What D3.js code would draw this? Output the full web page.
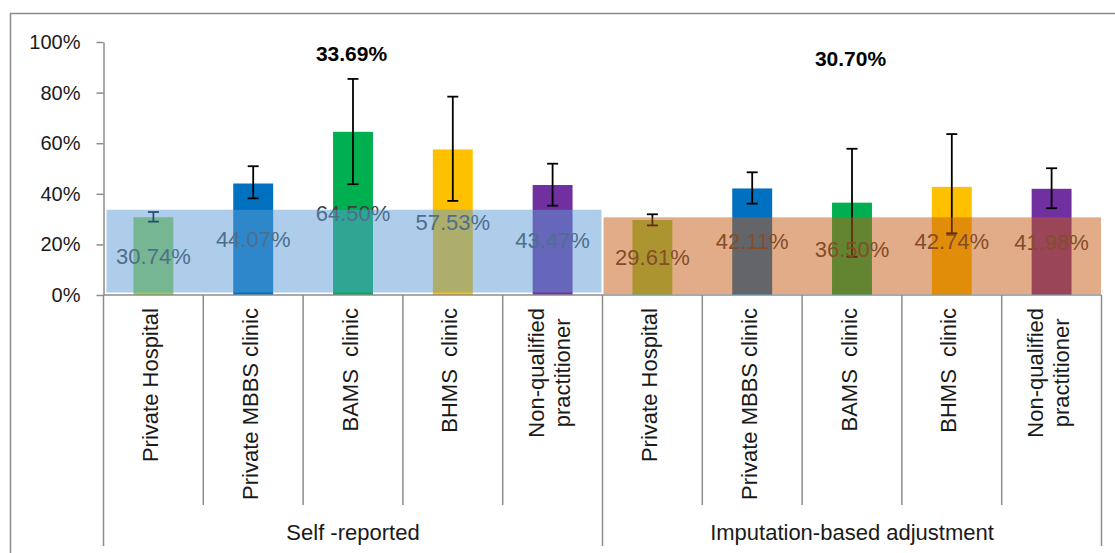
<!DOCTYPE html>
<html>
<head>
<meta charset="utf-8">
<script src="https://cdn.jsdelivr.net/npm/d3@7"></script>
<style>
  body { margin: 0; background: #fff; }
  svg { display: block; font-family: "Liberation Sans", Arial, sans-serif; }
</style>
</head>
<body>
<div id="chart"></div>
<script>
const categories = ['Private Hospital', 'Private MBBS clinic', 'BAMS  clinic', 'BHMS  clinic', 'Non-qualified|practitioner']
const groups = ['Self -reported', 'Imputation-based adjustment']
const groupMeans = [0.3369, 0.3070]
const groupMeanLabels = ['33.69%', '30.70%']

const selfValues = [0.3074, 0.4407, 0.6450, 0.5753, 0.4347]
const selfLow = [0.290, 0.382, 0.438, 0.372, 0.353]
const selfHigh = [0.328, 0.509, 0.854, 0.784, 0.519]

const imputedValues = [0.2961, 0.4211, 0.3650, 0.4274, 0.4198]
const imputedLow = [0.275, 0.361, 0.151, 0.244, 0.343]
const imputedHigh = [0.319, 0.485, 0.578, 0.636, 0.501]

const barColors = ['#92D050', '#0070C0', '#00B050', '#FFC000', '#7030A0']
const overlayColors = ['rgba(91,155,213,0.5)', 'rgba(197,90,17,0.5)']
const yTicks = [0, 0.2, 0.4, 0.6, 0.8, 1]

const w = 1115
const h = 553
const plotLeft = 103.5
const plotRight = 1101.5
const plotTop = 42
const plotBase = 295

let rows = []
groups.forEach((g, gi) => {
  const vals = gi === 0 ? selfValues : imputedValues
  const lo = gi === 0 ? selfLow : imputedLow
  const hi = gi === 0 ? selfHigh : imputedHigh
  categories.forEach((c, ci) => {
    rows.push({ key: gi + '-' + ci, group: gi, cat: c, ci: ci, value: vals[ci], lo: lo[ci], hi: hi[ci] })
  })
})

const xScale = d3.scaleBand()
  .domain(rows.map(d => d.key))
  .range([plotLeft, plotRight])
  .paddingInner(0.6)
  .paddingOuter(0.3)

const step = xScale.step()
const cellStart = key => xScale(key) - step * 0.3
const center = key => xScale(key) + xScale.bandwidth() / 2

const yScale = d3.scaleLinear()
  .domain([0, 1])
  .range([plotBase, plotTop])

const svg = d3.select('#chart')
  .append('svg')
  .attr('width', w)
  .attr('height', h)

// outer frame
svg.append('rect')
  .attr('x', 10.5).attr('y', 13.5)
  .attr('width', 1130).attr('height', 580)
  .attr('fill', 'none')
  .attr('stroke', '#8c8c8c')
  .attr('stroke-width', 1.5)

// bars
svg.selectAll('rect.bar')
  .data(rows)
  .enter()
  .append('rect')
  .attr('class', 'bar')
  .attr('x', d => xScale(d.key))
  .attr('y', d => yScale(d.value))
  .attr('width', xScale.bandwidth())
  .attr('height', d => yScale(0) - yScale(d.value))
  .attr('fill', d => barColors[d.ci])

// error bars
const err = svg.selectAll('g.err')
  .data(rows)
  .enter()
  .append('g')
  .attr('class', 'err')
  .attr('stroke', '#000')
  .attr('stroke-width', 1.8)

err.append('line')
  .attr('x1', d => center(d.key)).attr('x2', d => center(d.key))
  .attr('y1', d => yScale(d.lo)).attr('y2', d => yScale(d.hi))
err.append('line')
  .attr('x1', d => center(d.key) - 5.5).attr('x2', d => center(d.key) + 5.5)
  .attr('y1', d => yScale(d.hi)).attr('y2', d => yScale(d.hi))
err.append('line')
  .attr('x1', d => center(d.key) - 5.5).attr('x2', d => center(d.key) + 5.5)
  .attr('y1', d => yScale(d.lo)).attr('y2', d => yScale(d.lo))

// value labels (sit under the overlay)
svg.selectAll('text.val')
  .data(rows)
  .enter()
  .append('text')
  .attr('class', 'val')
  .attr('x', d => center(d.key))
  .attr('y', d => yScale(d.value / 2))
  .attr('dy', '0.35em')
  .attr('text-anchor', 'middle')
  .style('font-size', '22px')
  .style('fill', '#404040')
  .text(d => d3.format('.2%')(d.value))

// group mean overlays
svg.selectAll('rect.overlay')
  .data(groupMeans)
  .enter()
  .append('rect')
  .attr('class', 'overlay')
  .attr('x', (d, i) => cellStart(i + '-0') + (i === 0 ? 3 : 1))
  .attr('y', d => yScale(d))
  .attr('width', (d, i) => step * categories.length - (i === 0 ? 4 : 1.5))
  .attr('height', (d, i) => yScale(0) - yScale(d) - (i === 0 ? 2.5 : 1))
  .attr('fill', (d, i) => overlayColors[i])

// group mean headers
const headerY = [61, 66]
svg.selectAll('text.head')
  .data(groupMeanLabels)
  .enter()
  .append('text')
  .attr('class', 'head')
  .attr('x', (d, i) => center(i + '-2') - 1.5)
  .attr('y', (d, i) => headerY[i])
  .attr('text-anchor', 'middle')
  .style('font-size', '21px')
  .style('font-weight', 'bold')
  .style('fill', '#000')
  .text(d => d)

// y axis
const yAxis = d3.axisLeft(yScale)
  .tickValues(yTicks)
  .tickFormat(d3.format('.0%'))
  .tickSize(7)
  .tickSizeOuter(0)
  .tickPadding(16)

const yg = svg.append('g')
  .attr('transform', `translate(${plotLeft}, 0)`)
  .call(yAxis)
yg.select('.domain').attr('stroke', '#8c8c8c').attr('stroke-width', 1.5)
yg.selectAll('.tick line').attr('stroke', '#8c8c8c').attr('stroke-width', 1.5)
yg.selectAll('.tick text')
  .style('font-size', '20px')
  .style('font-family', '"Liberation Sans", Arial, sans-serif')
  .style('fill', '#1a1a1a')

// category axis line
svg.append('line')
  .attr('x1', plotLeft).attr('x2', plotRight)
  .attr('y1', plotBase).attr('y2', plotBase)
  .attr('stroke', '#8c8c8c')
  .attr('stroke-width', 1.5)

// category dividers
svg.selectAll('line.div')
  .data(rows.filter(d => d.ci > 0))
  .enter()
  .append('line')
  .attr('class', 'div')
  .attr('x1', d => cellStart(d.key)).attr('x2', d => cellStart(d.key))
  .attr('y1', plotBase).attr('y2', 505)
  .attr('stroke', '#8c8c8c')
  .attr('stroke-width', 1.5)

// group dividers
const groupEdges = [plotLeft, cellStart('1-0'), plotRight]
svg.selectAll('line.gdiv')
  .data(groupEdges)
  .enter()
  .append('line')
  .attr('class', 'gdiv')
  .attr('x1', d => d).attr('x2', d => d)
  .attr('y1', plotBase).attr('y2', 546)
  .attr('stroke', '#8c8c8c')
  .attr('stroke-width', 1.5)

// category labels, rotated
const lineGap = 26.4
rows.forEach(d => {
  const lines = d.cat.split('|')
  const g = svg.append('g')
    .attr('transform', `translate(${center(d.key) + 4.5}, 308) rotate(-90)`)
  const texts = lines.map((t, i) => g.append('text')
    .attr('y', (i - (lines.length - 1) / 2) * lineGap)
    .attr('text-anchor', 'middle')
    .style('font-size', '22px')
    .style('fill', '#1a1a1a')
    .style('white-space', 'pre')
    .text(t))
  const maxLen = d3.max(texts, t => t.node().getComputedTextLength())
  texts.forEach(t => t.attr('x', -maxLen / 2))
})

// group labels
svg.selectAll('text.group')
  .data(groups)
  .enter()
  .append('text')
  .attr('class', 'group')
  .attr('x', (d, i) => (groupEdges[i] + groupEdges[i + 1]) / 2)
  .attr('y', 540)
  .attr('text-anchor', 'middle')
  .style('font-size', '22px')
  .style('fill', '#1a1a1a')
  .text(d => d)
</script>
</body>
</html>
